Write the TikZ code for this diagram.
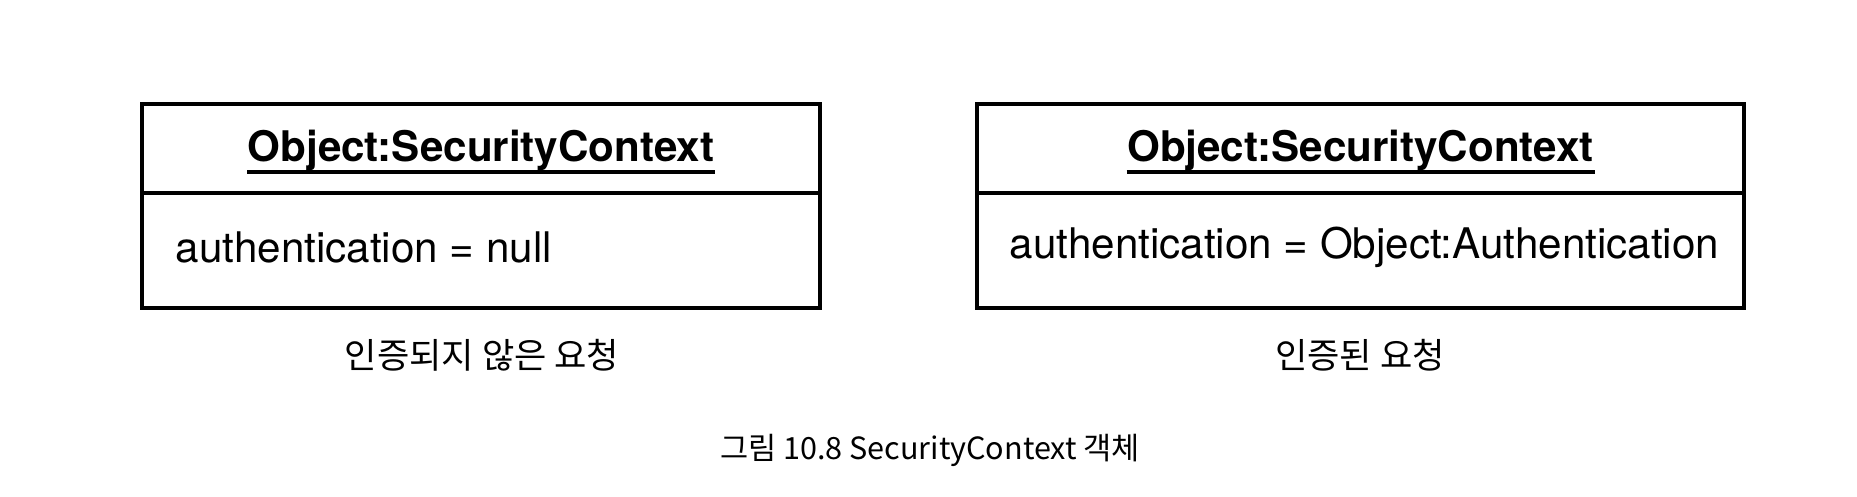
\documentclass[tikz,border=0pt]{standalone}
\usepackage{fontspec}
\setmainfont{TeX Gyre Heros}
\newfontfamily\kofont{Noto Sans CJK KR}
\usetikzlibrary{positioning}

\tikzset{
  objbox/.style={draw, line width=0.9pt, minimum height=2.04cm, inner sep=0pt},
  objtitle/.style={font=\fontsize{12}{14}\selectfont\bfseries, inner sep=0pt},
  titleline/.style={line width=1.1pt},
  attr/.style={font=\fontsize{12}{14}\selectfont, inner sep=0pt},
  reqlabel/.style={font=\kofont\fontsize{10}{12}\selectfont, inner sep=0pt},
  figcaption/.style={font=\kofont\fontsize{8.7}{11}\selectfont, inner sep=0pt}
}

\begin{document}
\begin{tikzpicture}
    \useasboundingbox (0,0) rectangle (18.57,-4.96);
    % the two object boxes
    \node[objbox, minimum width=6.78cm] (ctxA) at (4.81,-2.06) {};
    \node[objbox, minimum width=7.67cm] (ctxB) at (13.605,-2.06) {};
    % dividers between name and attribute
    \coordinate (divline) at (0,-1.93);
    \draw[line width=0.9pt] (ctxA.west |- divline) -- (ctxA.east |- divline);
    \draw[line width=0.9pt] (ctxB.west |- divline) -- (ctxB.east |- divline);
    % object names, underlined
    \node[objtitle] (titleA) at (4.81,-1.50) {Object:SecurityContext};
    \node[objtitle] (titleB) at (13.605,-1.50) {Object:SecurityContext};
    \draw[titleline] ([yshift=-1.1mm]titleA.base west) -- ([yshift=-1.1mm]titleA.base east);
    \draw[titleline] ([yshift=-1.1mm]titleB.base west) -- ([yshift=-1.1mm]titleB.base east);
    % attributes
    \node[attr, anchor=west] (attrA) at (1.75,-2.47) {authentication = null};
    \node[attr, anchor=west] (attrB) at (10.09,-2.47) {authentication = Object:Authentication};
    % labels under the boxes
    \node[reqlabel] (reqA) at (4.82,-3.55) {인증되지 않은 요청};
    \node[reqlabel] (reqB) at (13.6,-3.55) {인증된 요청};
    \node[figcaption] (fig) at (9.30,-4.50) {그림 10.8 SecurityContext 객체};
\end{tikzpicture}
\end{document}
